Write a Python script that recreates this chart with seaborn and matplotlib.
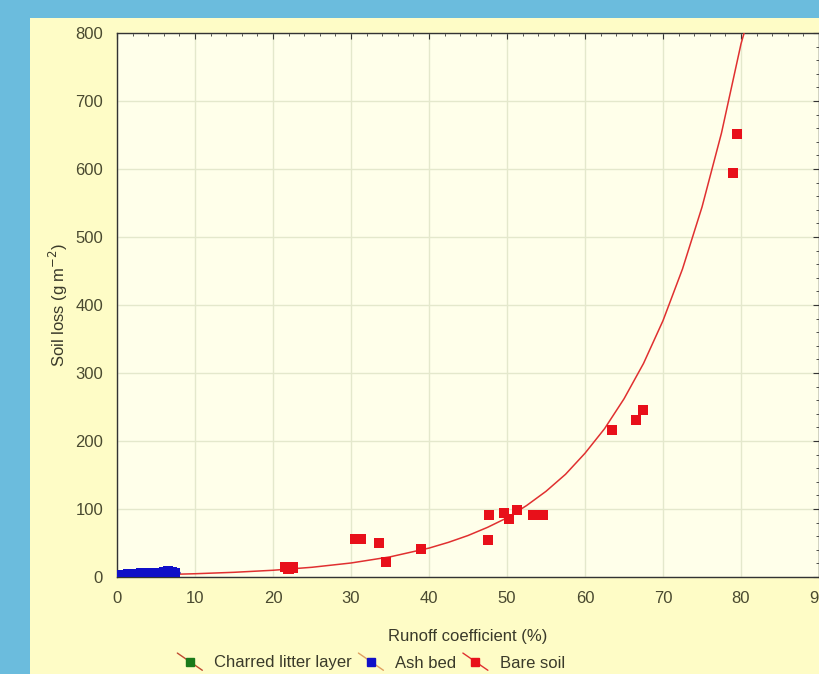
import numpy as np
import pandas as pd
import matplotlib
matplotlib.use("Agg")
import matplotlib.pyplot as plt
import seaborn as sns
from matplotlib.lines import Line2D
from matplotlib.patches import Rectangle
from matplotlib.legend_handler import HandlerBase
from matplotlib.ticker import MultipleLocator

# ---------------- data ----------------
bare_x = [21.5, 22.0, 22.6, 30.5, 31.3, 33.6, 34.5, 39.0, 47.6, 47.7, 49.6,
          50.3, 51.3, 53.3, 54.6, 63.5, 66.5, 67.4, 79.0, 79.5]
bare_y = [15, 12, 14, 56, 56, 50, 22, 41, 54, 91, 94,
          85, 99, 91, 91, 216, 231, 246, 594, 651]

ash_x = [0.3, 0.8, 1.4, 2.0, 2.6, 3.1, 3.7, 4.3, 4.8, 5.4, 6.0, 6.5, 7.0, 7.4]
ash_y = [3, 2, 4, 3, 4, 5, 4, 5, 6, 6, 7, 8, 7, 6]

litter_x = [0.2, 0.5, 1.0, 1.5, 2.0]
litter_y = [1, 2, 1, 2, 1]

# fitted curve for bare soil
curve_x = [0, 5, 10, 15, 20, 25, 30, 35, 40, 42.5, 45, 47.5, 50, 52.5, 55,
           57.5, 60, 62.5, 65, 67.5, 70, 72.5, 75, 77.5, 80, 80.4]
curve_y = [2.3, 3.3, 4.8, 6.9, 9.9, 14.3, 20.6, 29.6, 42.5, 51, 61, 73, 87,
           105, 126, 151, 182, 218, 262, 314, 377, 453, 544, 653, 784, 800]

ash_fit_x = [0, 8]
ash_fit_y = [3, 6]
litter_fit_x = [0, 2.5]
litter_fit_y = [1, 1.5]

series = ["Charred litter layer", "Ash bed", "Bare soil"]
marker_colors = ["#1a7a1a", "#1010c8", "#e8101a"]
line_colors = ["#c04a30", "#e0a060", "#e03030"]

xticks = list(range(0, 100, 10))
yticks = list(range(0, 900, 100))

# ---------------- figure ----------------
sns.set_style("white")
plt.rcParams["font.family"] = ["Liberation Sans", "DejaVu Sans"]

fig = plt.figure(figsize=(8.19, 6.74), dpi=100)
fig.patch.set_facecolor("#6bbcdd")
fig.add_artist(Rectangle((30 / 819, 0), 1 - 30 / 819, 1 - 18 / 674,
                         transform=fig.transFigure, facecolor="#fefcc6",
                         edgecolor="none", zorder=0))

ax = fig.add_axes([117 / 819, 1 - 577 / 674, (819 - 117) / 819, (577 - 33) / 674])
ax.set_facecolor("#ffffea")

df = pd.DataFrame({
    "x": litter_x + ash_x + bare_x,
    "y": litter_y + ash_y + bare_y,
    "s": [series[0]] * len(litter_x) + [series[1]] * len(ash_x) + [series[2]] * len(bare_x),
})

sns.lineplot(x=curve_x, y=curve_y, ax=ax, color=line_colors[2], lw=1.1, zorder=3)
sns.lineplot(x=litter_fit_x, y=litter_fit_y, ax=ax, color=line_colors[0], lw=1, zorder=3)
sns.lineplot(x=ash_fit_x, y=ash_fit_y, ax=ax, color="#2020a0", lw=2, zorder=3)

sns.scatterplot(data=df, x="x", y="y", hue="s", palette=dict(zip(series, marker_colors)),
                marker="s", s=55, edgecolor="none", linewidth=0, ax=ax,
                legend=False, zorder=4)

ax.set_xlim(0, 90)
ax.set_ylim(0, 800)
ax.set_xticks(xticks)
ax.set_yticks(yticks)
ax.xaxis.set_minor_locator(MultipleLocator(2))
ax.yaxis.set_minor_locator(MultipleLocator(20))
ax.grid(True, which="major", color="#e4e8cc", lw=1)
ax.set_axisbelow(True)
ax.tick_params(which="both", direction="in", top=True, right=True,
               colors="#333333", labelcolor="#4a4a30", labelsize=12)
ax.tick_params(which="major", length=4, pad=10)
ax.tick_params(which="minor", length=2)
for sp in ax.spines.values():
    sp.set_color("#333333")
    sp.set_linewidth(1)

ax.set_xlabel("Runoff coefficient (%)", fontsize=12, color="#3a3a2a", labelpad=17)
ax.set_ylabel("Soil loss (g m$^{-2}$)", fontsize=12, color="#3a3a2a", labelpad=4)


class SlantHandler(HandlerBase):
    def create_artists(self, legend, orig_handle, xdescent, ydescent,
                       width, height, fontsize, trans):
        x0, x1 = -xdescent, -xdescent + width
        y0, y1 = -ydescent - 2, -ydescent + height + 2
        ln = Line2D([x0, x1], [y1, y0], color=orig_handle.get_color(), lw=1,
                    transform=trans)
        mk = Line2D([(x0 + x1) / 2], [(y0 + y1) / 2], marker="s", ms=5.5,
                    markerfacecolor=orig_handle.get_markerfacecolor(),
                    markeredgecolor=orig_handle.get_markerfacecolor(),
                    ls="none", transform=trans)
        return [ln, mk]


handles = [Line2D([], [], color=lc, marker="s", markerfacecolor=mc)
           for lc, mc in zip(line_colors, marker_colors)]
fig.legend(handles, series, loc="center", bbox_to_anchor=(371 / 819, 1 - 663 / 674),
           ncol=3, frameon=False, fontsize=12, handlelength=1.5,
           handletextpad=0.7, columnspacing=0.4, labelcolor="#3a3a2a",
           handler_map={Line2D: SlantHandler()})

fig.savefig("out.png", dpi=100, facecolor=fig.get_facecolor())
